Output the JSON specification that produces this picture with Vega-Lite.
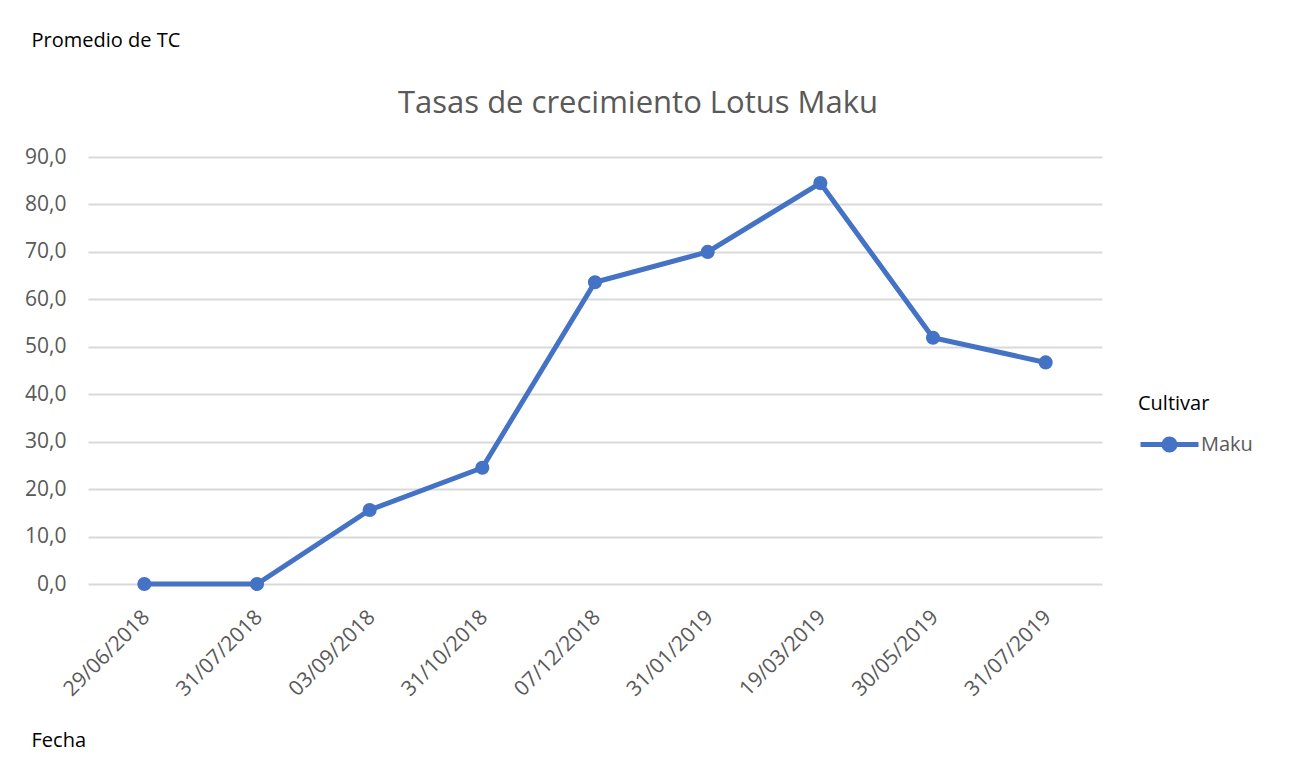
{
  "$schema": "https://vega.github.io/schema/vega-lite/v6.json",
  "width": 1014,
  "height": 427,
  "autosize": {"type": "none"},
  "padding": {"left": 88, "top": 157, "right": 192, "bottom": 189},
  "background": "white",
  "title": {
    "text": "Tasas de crecimiento Lotus Maku",
    "fontSize": 31,
    "font": "Open Sans",
    "fontWeight": "normal",
    "color": "#595959",
    "anchor": "middle",
    "dx": 43,
    "offset": -90
  },
  "data": {
    "values": [
      {"fecha": "29/06/2018", "tc": 0, "cultivar": "Maku"},
      {"fecha": "31/07/2018", "tc": 0, "cultivar": "Maku"},
      {"fecha": "03/09/2018", "tc": 15.6, "cultivar": "Maku"},
      {"fecha": "31/10/2018", "tc": 24.5, "cultivar": "Maku"},
      {"fecha": "07/12/2018", "tc": 63.6, "cultivar": "Maku"},
      {"fecha": "31/01/2019", "tc": 70.0, "cultivar": "Maku"},
      {"fecha": "19/03/2019", "tc": 84.5, "cultivar": "Maku"},
      {"fecha": "30/05/2019", "tc": 51.9, "cultivar": "Maku"},
      {"fecha": "31/07/2019", "tc": 46.7, "cultivar": "Maku"}
    ]
  },
  "encoding": {
    "x": {
      "field": "fecha",
      "type": "ordinal",
      "sort": null,
      "scale": {"type": "point", "padding": 0.5},
      "axis": {
        "title": "Fecha",
        "titleFont": "Open Sans",
        "titleFontSize": 20,
        "titleFontWeight": "normal",
        "titleColor": "#000000",
        "titleAngle": 0,
        "titleAlign": "left",
        "titleBaseline": "middle",
        "titleX": -57,
        "titleY": 156,
        "labelAngle": -45,
        "labelFont": "Open Sans",
        "labelFontSize": 21,
        "labelColor": "#595959",
        "labelPadding": 22,
        "labelOffset": -6,
        "ticks": false,
        "domain": false,
        "grid": false
      }
    },
    "y": {
      "field": "tc",
      "type": "quantitative",
      "scale": {"domain": [0, 90], "nice": false, "zero": true},
      "axis": {
        "title": "Promedio de TC",
        "titleFont": "Open Sans",
        "titleFontSize": 20,
        "titleFontWeight": "normal",
        "titleColor": "#000000",
        "titleAngle": 0,
        "titleAlign": "left",
        "titleBaseline": "middle",
        "titleX": -57,
        "titleY": -117,
        "values": [0, 10, 20, 30, 40, 50, 60, 70, 80, 90],
        "labelExpr": "replace(format(datum.value, '.1f'), '.', ',')",
        "labelFont": "Open Sans",
        "labelFontSize": 21,
        "labelColor": "#595959",
        "labelPadding": 22,
        "ticks": false,
        "domain": false,
        "grid": true,
        "gridColor": "#d9d9d9",
        "gridWidth": 2
      }
    }
  },
  "layer": [
    {
      "mark": {"type": "line", "strokeWidth": 5, "color": "#4472C4"},
      "encoding": {
        "color": {
          "field": "cultivar",
          "type": "nominal",
          "scale": {"range": ["#4472C4"]},
          "legend": {
            "title": "Cultivar",
            "orient": "none",
            "legendX": 1050,
            "legendY": 237,
            "titleFont": "Open Sans",
            "titleFontSize": 20,
            "titleFontWeight": "normal",
            "titleColor": "#000000",
            "titlePadding": -1,
            "labelFont": "Open Sans",
            "labelFontSize": 20,
            "labelColor": "#595959",
            "labelOffset": 0,
            "symbolType": "M-1,0L1,0M0.19,0A0.19,0.19,0,1,1,-0.19,0A0.19,0.19,0,1,1,0.19,0Z",
            "symbolSize": 3364,
            "symbolStrokeWidth": 5,
            "symbolFillColor": "#4472C4",
            "symbolStrokeColor": "#4472C4",
            "encode": {"symbols": {"update": {"fill": {"value": "#4472C4"}, "stroke": {"value": "#4472C4"}, "strokeWidth": {"value": 5}}}}
          }
        }
      }
    },
    {
      "mark": {"type": "point", "filled": true, "size": 200, "color": "#4472C4", "opacity": 1}
    }
  ],
  "config": {"view": {"stroke": null}}
}
